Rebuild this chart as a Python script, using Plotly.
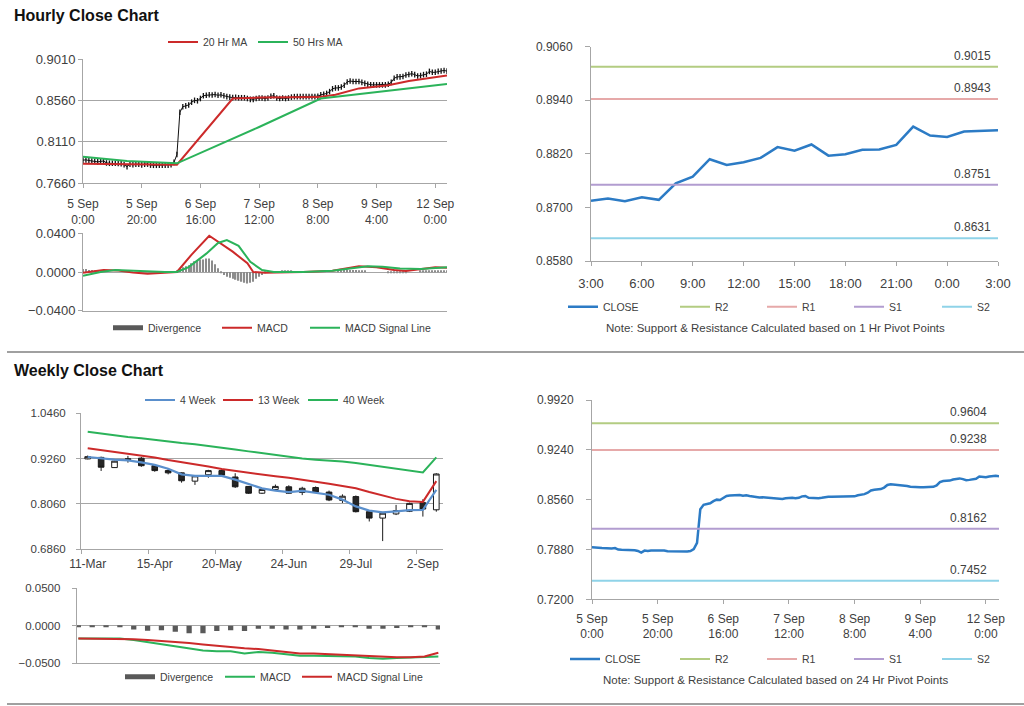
import plotly.graph_objects as go

# ---------------- DATA ----------------
# Hourly close (5 Sep 0:00 -> 12 Sep ~4:00), one value per hour
hourly_close = [
    0.7909, 0.7912, 0.7905, 0.7900, 0.7895, 0.7890, 0.7895, 0.7900, 0.7878, 0.7875,
    0.7875, 0.7875, 0.7873, 0.7870, 0.7860, 0.7838, 0.7865, 0.7858, 0.7866, 0.7866,
    0.7857, 0.7866, 0.7866, 0.7855, 0.7853, 0.7853, 0.7853, 0.7853, 0.7853, 0.7853,
    0.7858, 0.7885, 0.7970, 0.8430, 0.8490, 0.8500, 0.8510, 0.8540, 0.8560, 0.8555,
    0.8580, 0.8610, 0.8615, 0.8620, 0.8618, 0.8623, 0.8615, 0.8620, 0.8610, 0.8600,
    0.8595, 0.8590, 0.8592, 0.8588, 0.8588, 0.8588, 0.8580, 0.8570, 0.8570, 0.8580,
    0.8585, 0.8585, 0.8580, 0.8585, 0.8605, 0.8610, 0.8585, 0.8580, 0.8585, 0.8580,
    0.8585, 0.8595, 0.8600, 0.8600, 0.8600, 0.8600, 0.8600, 0.8600, 0.8600, 0.8600,
    0.8605, 0.8620, 0.8625, 0.8635, 0.8655, 0.8685, 0.8695, 0.8695, 0.8705, 0.8725,
    0.8760, 0.8770, 0.8765, 0.8765, 0.8765, 0.8755, 0.8745, 0.8735, 0.8730, 0.8728,
    0.8728, 0.8728, 0.8728, 0.8728, 0.8735, 0.8755, 0.8800, 0.8815, 0.8815, 0.8820,
    0.8835, 0.8842, 0.8850, 0.8840, 0.8825, 0.8830, 0.8840, 0.8845, 0.8875, 0.8865,
    0.8865, 0.8875, 0.8880, 0.8885, 0.8878,
]
hourly_tick_hours = [0, 20, 40, 60, 80, 100, 120]
hourly_tick_labels = ["5 Sep<br>0:00", "5 Sep<br>20:00", "6 Sep<br>16:00", "7 Sep<br>12:00",
                      "8 Sep<br>8:00", "9 Sep<br>4:00", "12 Sep<br>0:00"]

ma20_hours = [0, 32, 51, 60, 80, 86, 94, 100, 104, 111, 124]
ma20_vals = [0.7870, 0.7860, 0.8580, 0.8590, 0.8595, 0.8620, 0.8690, 0.8715, 0.8725, 0.8770, 0.8830]
ma50_hours = [0, 15, 32, 60, 81, 94, 111, 124]
ma50_vals = [0.7946, 0.7900, 0.7874, 0.8270, 0.8580, 0.8626, 0.8690, 0.8738]

hmacd_hours = [0, 7, 12, 17, 22, 28, 32, 37, 43, 51, 56, 58, 62, 66, 75, 85, 94, 100, 106, 110, 115, 120, 124]
hmacd_vals = [-0.0007, 0.0020, 0.0015, -0.0005, -0.0017, -0.0007, 0.0000, 0.0180, 0.0375, 0.0210, 0.0090,
              0.0000, -0.0008, -0.0005, 0.0000, 0.0014, 0.0060, 0.0050, 0.0020, 0.0010, 0.0030, 0.0050, 0.0045]
hsig_hours = [0, 6, 11, 19, 28, 32, 36, 42, 46, 49, 53, 57, 61, 65, 75, 85, 97, 102, 108, 115, 124]
hsig_vals = [-0.0040, 0.0000, 0.0020, 0.0007, 0.0000, 0.0000, 0.0050, 0.0190, 0.0300, 0.0330, 0.0270,
             0.0105, 0.0020, 0.0000, 0.0000, 0.0012, 0.0060, 0.0055, 0.0035, 0.0030, 0.0050]
hourly_div = [
    0.003, 0.003, 0.002, 0.002, 0.001, 0.001, 0, 0, 0, 0,
    0, 0, 0, 0, 0, 0, 0, 0, 0, 0,
    0, 0, 0, 0, 0, 0, 0, 0, 0, 0,
    0, 0, 0.001, 0.003, 0.005, 0.006, 0.007, 0.009, 0.011, 0.012,
    0.013, 0.013, 0.014, 0.014, 0.012, 0.008, 0.004, -0.001, -0.003, -0.005,
    -0.006, -0.007, -0.008, -0.009, -0.010, -0.011, -0.012, -0.011, -0.010, -0.007,
    -0.005, -0.003, -0.001, 0, 0, 0, 0, 0, 0.001, 0.001,
    0.001, 0.001, 0, 0, 0, 0, 0, 0, 0, 0,
    0, 0, 0, 0, 0, 0, 0, 0.001, 0.001, 0.002,
    0.002, 0.002, 0.002, 0.002, 0.001, 0.001, 0.001, 0, 0, 0,
    0, 0, 0, 0, -0.001, -0.001, -0.001, -0.001, -0.001, -0.001,
    -0.001, 0, 0, 0, 0, 0.001, 0.001, 0.001, 0.001, 0.001,
    0.001, 0.001, 0.001, 0.001, 0.001,
]

# 1-hour pivot chart (last 24 hours, 3:00 -> 3:00)
pivot1_close = [0.8715, 0.8720, 0.8714, 0.8723, 0.8717, 0.8754, 0.8769, 0.8808, 0.8795, 0.8801,
                0.8811, 0.8835, 0.8827, 0.8841, 0.8816, 0.8819, 0.8829, 0.8830, 0.8840, 0.8881,
                0.8861, 0.8858, 0.8870, 0.8872, 0.8873]
pivot1_tick_pos = [0, 3, 6, 9, 12, 15, 18, 21, 24]
pivot1_tick_labels = ["3:00", "6:00", "9:00", "12:00", "15:00", "18:00", "21:00", "0:00", "3:00"]

level_names = ["R2", "R1", "S1", "S2"]
levels_1h = [0.9015, 0.8943, 0.8751, 0.8631]
levels_24h = [0.9604, 0.9238, 0.8162, 0.7452]

# Weekly candles
week_labels = ["11-Mar", "18-Mar", "25-Mar", "1-Apr", "8-Apr", "15-Apr", "22-Apr", "29-Apr", "6-May",
               "13-May", "20-May", "27-May", "3-Jun", "10-Jun", "17-Jun", "24-Jun", "1-Jul", "8-Jul",
               "15-Jul", "22-Jul", "29-Jul", "5-Aug", "12-Aug", "19-Aug", "26-Aug", "2-Sep", "9-Sep"]
w_open = [0.925, 0.929, 0.902, 0.923, 0.927, 0.907, 0.894, 0.888, 0.866, 0.883, 0.894, 0.877, 0.852, 0.834,
          0.844, 0.851, 0.836, 0.849, 0.837, 0.815, 0.825, 0.785, 0.768, 0.779, 0.786, 0.809, 0.790]
w_high = [0.934, 0.931, 0.920, 0.933, 0.930, 0.909, 0.898, 0.889, 0.882, 0.896, 0.897, 0.887, 0.853, 0.846,
          0.857, 0.855, 0.851, 0.852, 0.841, 0.831, 0.828, 0.787, 0.782, 0.803, 0.809, 0.818, 0.887]
w_low = [0.924, 0.893, 0.901, 0.915, 0.904, 0.891, 0.884, 0.862, 0.856, 0.875, 0.880, 0.848, 0.832, 0.832,
         0.840, 0.832, 0.829, 0.835, 0.813, 0.808, 0.783, 0.759, 0.707, 0.776, 0.784, 0.772, 0.785]
w_close = [0.931, 0.903, 0.919, 0.925, 0.907, 0.894, 0.888, 0.867, 0.880, 0.894, 0.882, 0.851, 0.834, 0.844,
           0.852, 0.834, 0.847, 0.837, 0.816, 0.826, 0.785, 0.768, 0.781, 0.788, 0.807, 0.792, 0.885]
ma4w = [0.930, 0.926, 0.923, 0.921, 0.916, 0.909, 0.899, 0.884, 0.880, 0.880, 0.880, 0.870, 0.858, 0.847,
        0.841, 0.837, 0.840, 0.836, 0.830, 0.817, 0.799, 0.788, 0.783, 0.786, 0.789, 0.790, 0.843]
ma13w = [0.953, 0.948, 0.944, 0.940, 0.935, 0.929, 0.922, 0.917, 0.911, 0.905, 0.898, 0.893, 0.887, 0.883,
         0.879, 0.875, 0.870, 0.865, 0.859, 0.853, 0.847, 0.837, 0.827, 0.819, 0.813, 0.811, 0.866]
ma40w = [0.997, 0.992, 0.987, 0.983, 0.980, 0.975, 0.971, 0.967, 0.964, 0.960, 0.956, 0.950, 0.945, 0.940,
         0.935, 0.930, 0.926, 0.923, 0.921, 0.918, 0.914, 0.909, 0.904, 0.899, 0.894, 0.889, 0.929]
wmacd = [-0.017, -0.017, -0.017, -0.017, -0.019, -0.022, -0.024, -0.028, -0.031, -0.033, -0.034, -0.034,
         -0.037, -0.035, -0.036, -0.038, -0.040, -0.040, -0.040, -0.040, -0.041, -0.043, -0.044, -0.043,
         -0.042, -0.042, -0.041]
wsignal = [-0.017, -0.017, -0.017, -0.017, -0.018, -0.019, -0.020, -0.022, -0.023, -0.025, -0.027, -0.029,
           -0.030, -0.031, -0.033, -0.035, -0.037, -0.037, -0.038, -0.038, -0.039, -0.040, -0.041, -0.042,
           -0.042, -0.041, -0.036]
wdiv = [-0.002, -0.002, -0.002, -0.002, -0.005, -0.0066, -0.006, -0.008, -0.010, -0.010, -0.007, -0.006,
        -0.007, -0.004, -0.004, -0.005, -0.005, -0.004, -0.003, -0.002, -0.002, -0.004, -0.004, -0.003,
        -0.002, -0.001, -0.005]

# ---------------- STYLE / LAYOUT HELPERS ----------------
W, H = 1024, 706
FONT = "Liberation Sans, Arial, sans-serif"
TXT = "#404040"
GRID = "#A6A6A6"
RED = "#CC2A2A"
GREEN = "#2BB35A"
BLUE_CLOSE = "#2C7BC5"
BLUE_W = "#5A8FCC"
DIV_GRAY = "#595959"
LEVEL_COLORS = ["#B3CC82", "#E6A9A9", "#B29DD0", "#8FD3E8"]


def fx(px):
    return px / W


def fy(py):
    return 1 - py / H


hours = list(range(len(hourly_close)))
p_hours = list(range(len(pivot1_close)))
weeks = list(range(len(week_labels)))

fig = go.Figure()
legend_defs = {}
leg_counter = [0]


def new_legend(line_start_px, y_px):
    leg_counter[0] += 1
    name = "legend" if leg_counter[0] == 1 else f"legend{leg_counter[0]}"
    legend_defs[name] = dict(
        orientation="h", x=fx(line_start_px - 5), y=fy(y_px), xanchor="left", yanchor="middle",
        bgcolor="rgba(0,0,0,0)", borderwidth=0, font=dict(family=FONT, size=10.5, color=TXT),
        itemwidth=30,
    )
    return name


# ---- Panel 1: hourly close + MAs ----
fig.add_trace(go.Scatter(x=hours, y=hourly_close, mode="lines+markers", showlegend=False,
                         line=dict(color="#111111", width=1),
                         marker=dict(symbol="line-ns", size=4, line=dict(color="#111111", width=1.3)),
                         xaxis="x", yaxis="y"))
fig.add_trace(go.Scatter(x=ma20_hours, y=ma20_vals, mode="lines", name="20 Hr MA",
                         line=dict(color=RED, width=2), xaxis="x", yaxis="y",
                         legend=new_legend(168, 42)))
fig.add_trace(go.Scatter(x=ma50_hours, y=ma50_vals, mode="lines", name="50 Hrs MA",
                         line=dict(color=GREEN, width=2), xaxis="x", yaxis="y",
                         legend=new_legend(258, 42)))

# ---- Panel 2: hourly MACD ----
fig.add_trace(go.Bar(x=hours, y=hourly_div, marker=dict(color="#8C8C8C", line=dict(width=0)),
                     width=0.45, showlegend=False, xaxis="x2", yaxis="y2"))
fig.add_trace(go.Scatter(x=[None], y=[None], mode="lines", name="Divergence",
                         line=dict(color=DIV_GRAY, width=5), xaxis="x2", yaxis="y2",
                         legend=new_legend(113, 327.7)))
fig.add_trace(go.Scatter(x=hmacd_hours, y=hmacd_vals, mode="lines", name="MACD",
                         line=dict(color=RED, width=2), xaxis="x2", yaxis="y2",
                         legend=new_legend(222, 327.7)))
fig.add_trace(go.Scatter(x=hsig_hours, y=hsig_vals, mode="lines", name="MACD Signal Line",
                         line=dict(color=GREEN, width=2), xaxis="x2", yaxis="y2",
                         legend=new_legend(310, 327.7)))

# ---- Panel 3: 1 Hr pivot ----
fig.add_trace(go.Scatter(x=p_hours, y=pivot1_close, mode="lines", name="CLOSE",
                         line=dict(color=BLUE_CLOSE, width=2.5), xaxis="x3", yaxis="y3",
                         legend=new_legend(568, 306.7)))
leg_x = [680, 767, 854, 942]
for nm, lv, col, lx in zip(level_names, levels_1h, LEVEL_COLORS, leg_x):
    fig.add_trace(go.Scatter(x=[p_hours[0], p_hours[-1]], y=[lv, lv], mode="lines", name=nm,
                             line=dict(color=col, width=2), xaxis="x3", yaxis="y3",
                             legend=new_legend(lx, 306.7)))

# ---- Panel 4: weekly candles ----
fig.add_trace(go.Candlestick(x=weeks, open=w_open, high=w_high, low=w_low, close=w_close,
                             showlegend=False, whiskerwidth=0,
                             increasing=dict(line=dict(color="#1A1A1A", width=1), fillcolor="#FFFFFF"),
                             decreasing=dict(line=dict(color="#1A1A1A", width=1), fillcolor="#262626"),
                             xaxis="x4", yaxis="y4", hoverinfo="skip"))
fig.add_trace(go.Scatter(x=weeks, y=ma4w, mode="lines", name="4 Week",
                         line=dict(color=BLUE_W, width=2.2), xaxis="x4", yaxis="y4",
                         legend=new_legend(145, 400)))
fig.add_trace(go.Scatter(x=weeks, y=ma13w, mode="lines", name="13 Week",
                         line=dict(color=RED, width=2), xaxis="x4", yaxis="y4",
                         legend=new_legend(223, 400)))
fig.add_trace(go.Scatter(x=weeks, y=ma40w, mode="lines", name="40 Week",
                         line=dict(color=GREEN, width=2), xaxis="x4", yaxis="y4",
                         legend=new_legend(308, 400)))

# ---- Panel 5: weekly MACD ----
fig.add_trace(go.Bar(x=weeks, y=wdiv, marker=dict(color=DIV_GRAY, line=dict(width=0)), width=0.38,
                     showlegend=False, xaxis="x5", yaxis="y5"))
fig.add_trace(go.Scatter(x=[None], y=[None], mode="lines", name="Divergence",
                         line=dict(color=DIV_GRAY, width=5), xaxis="x5", yaxis="y5",
                         legend=new_legend(125, 676.7)))
fig.add_trace(go.Scatter(x=weeks, y=wmacd, mode="lines", name="MACD",
                         line=dict(color=GREEN, width=2), xaxis="x5", yaxis="y5",
                         legend=new_legend(225, 676.7)))
fig.add_trace(go.Scatter(x=weeks, y=wsignal, mode="lines", name="MACD Signal Line",
                         line=dict(color=RED, width=2), xaxis="x5", yaxis="y5",
                         legend=new_legend(302, 676.7)))

# ---- Panel 6: 24 Hr pivot ----
fig.add_trace(go.Scatter(x=hours, y=hourly_close, mode="lines", name="CLOSE",
                         line=dict(color=BLUE_CLOSE, width=2.5), xaxis="x6", yaxis="y6",
                         legend=new_legend(570, 659)))
for nm, lv, col, lx in zip(level_names, levels_24h, LEVEL_COLORS, leg_x):
    fig.add_trace(go.Scatter(x=[hours[0], hours[-1]], y=[lv, lv], mode="lines", name=nm,
                             line=dict(color=col, width=2), xaxis="x6", yaxis="y6",
                             legend=new_legend(lx, 659)))

# ---------------- AXES ----------------


def yax(anchor, dom_px, rng, vals, grid, size=12, ticklen=4, standoff=None):
    d = dict(anchor=anchor, domain=[fy(dom_px[1]), fy(dom_px[0])], range=rng, tickvals=vals,
             tickformat=".4f", showgrid=grid, gridcolor=GRID, gridwidth=1, showline=True, linecolor=GRID,
             linewidth=1, zeroline=False, ticks="outside", ticklen=ticklen, tickcolor=GRID,
             tickfont=dict(family=FONT, size=size, color=TXT), fixedrange=True, automargin=False)
    if standoff is not None:
        d["ticklabelstandoff"] = standoff
    return d


def xax(anchor, dom_px, rng, tickvals=None, ticktext=None, size=12, standoff=None, ticks="outside"):
    d = dict(anchor=anchor, domain=[fx(dom_px[0]), fx(dom_px[1])], range=rng, showgrid=False,
             showline=True, linecolor=GRID, linewidth=1, zeroline=False, fixedrange=True, automargin=False,
             tickfont=dict(family=FONT, size=size, color=TXT))
    if tickvals is None:
        d.update(showticklabels=False, ticks="")
    else:
        d.update(tickvals=tickvals, ticktext=ticktext, ticks=ticks, ticklen=4, tickcolor=GRID)
    if standoff is not None:
        d["ticklabelstandoff"] = standoff
    return d


layout_axes = dict(
    xaxis=xax("y", (83, 447), [0, 124], hourly_tick_hours, hourly_tick_labels, size=12, standoff=6),
    yaxis=yax("x", (59, 183), [0.7660, 0.9010], [0.7660, 0.8110, 0.8560, 0.9010], True, size=13),
    xaxis2=xax("y2", (83, 447), [0, 124]),
    yaxis2=yax("x2", (233.3, 310.7), [-0.04, 0.04], [-0.04, 0.0, 0.04], True, size=13),
    xaxis3=xax("y3", (591, 998), [0, 24], pivot1_tick_pos, pivot1_tick_labels, size=13, standoff=6),
    yaxis3=yax("x3", (46.7, 261), [0.858, 0.906], [0.858, 0.870, 0.882, 0.894, 0.906], False, size=12,
               ticklen=5, standoff=10),
    xaxis4=xax("y4", (81, 443), [-0.5, 26.5], weeks[::5], week_labels[::5], size=12, ticks="",
               standoff=4),
    yaxis4=yax("x4", (413.3, 549), [0.686, 1.046], [0.686, 0.806, 0.926, 1.046], True, size=11.5,
               standoff=8),
    xaxis5=xax("y5", (76.7, 440), [-0.12, 26.12]),
    yaxis5=yax("x5", (588.3, 663.3), [-0.05, 0.05], [-0.05, 0.0, 0.05], True, size=11.5, standoff=9),
    xaxis6=xax("y6", (592, 999), [0, 124], hourly_tick_hours, hourly_tick_labels, size=12, standoff=4),
    yaxis6=yax("x6", (400, 599.3), [0.720, 0.992], [0.720, 0.788, 0.856, 0.924, 0.992], False, size=12,
               ticklen=5, standoff=10),
)
layout_axes["xaxis4"]["rangeslider"] = dict(visible=False)
layout_axes["xaxis4"]["minor"] = dict(tickvals=[-0.5, 4.5, 9.5, 14.5, 19.5, 24.5], ticks="outside",
                                      ticklen=4, tickcolor=GRID, showgrid=False)

# ---------------- ANNOTATIONS & SHAPES ----------------
annotations = [
    dict(text="<b>Hourly Close Chart</b>", x=fx(12), y=fy(16), xref="paper", yref="paper",
         xanchor="left", yanchor="middle", showarrow=False, font=dict(family=FONT, size=16, color="#111111")),
    dict(text="<b>Weekly Close Chart</b>", x=fx(12), y=fy(370), xref="paper", yref="paper",
         xanchor="left", yanchor="middle", showarrow=False, font=dict(family=FONT, size=16, color="#111111")),
    dict(text="Note: Support & Resistance Calculated based on 1 Hr Pivot Points", x=fx(775), y=fy(327.7),
         xref="paper", yref="paper", xanchor="center", yanchor="middle", showarrow=False,
         font=dict(family=FONT, size=11.5, color=TXT)),
    dict(text="Note: Support & Resistance Calculated based on 24 Hr Pivot Points", x=fx(775), y=fy(680),
         xref="paper", yref="paper", xanchor="center", yanchor="middle", showarrow=False,
         font=dict(family=FONT, size=11.5, color=TXT)),
]
for lv in levels_1h:
    annotations.append(dict(text=f"{lv:.4f}", x=p_hours[-1], y=lv, xref="x3", yref="y3", xanchor="right",
                            yanchor="bottom", xshift=-5, yshift=2, showarrow=False,
                            font=dict(family=FONT, size=12, color=TXT)))
for lv in levels_24h:
    annotations.append(dict(text=f"{lv:.4f}", x=hours[-1], y=lv, xref="x6", yref="y6", xanchor="right",
                            yanchor="bottom", xshift=-10, yshift=2, showarrow=False,
                            font=dict(family=FONT, size=12, color=TXT)))

shapes = [
    dict(type="line", xref="paper", yref="paper", x0=fx(7), x1=1, y0=fy(352), y1=fy(352),
         line=dict(color="#A0A0A0", width=2)),
    dict(type="line", xref="paper", yref="paper", x0=fx(7), x1=1, y0=fy(704), y1=fy(704),
         line=dict(color="#A0A0A0", width=2)),
]

fig.update_layout(
    template="none",
    width=W, height=H, margin=dict(l=0, r=0, t=0, b=0, autoexpand=False), autosize=False,
    paper_bgcolor="white", plot_bgcolor="white", font=dict(family=FONT, color=TXT),
    barmode="overlay", boxgap=0.4, hovermode=False,
    annotations=annotations, shapes=shapes,
    **layout_axes,
    **legend_defs,
)

fig.write_html("out.html", config={"displayModeBar": False},
               post_script="document.body.style.margin='0px';document.body.style.overflow='hidden';")
